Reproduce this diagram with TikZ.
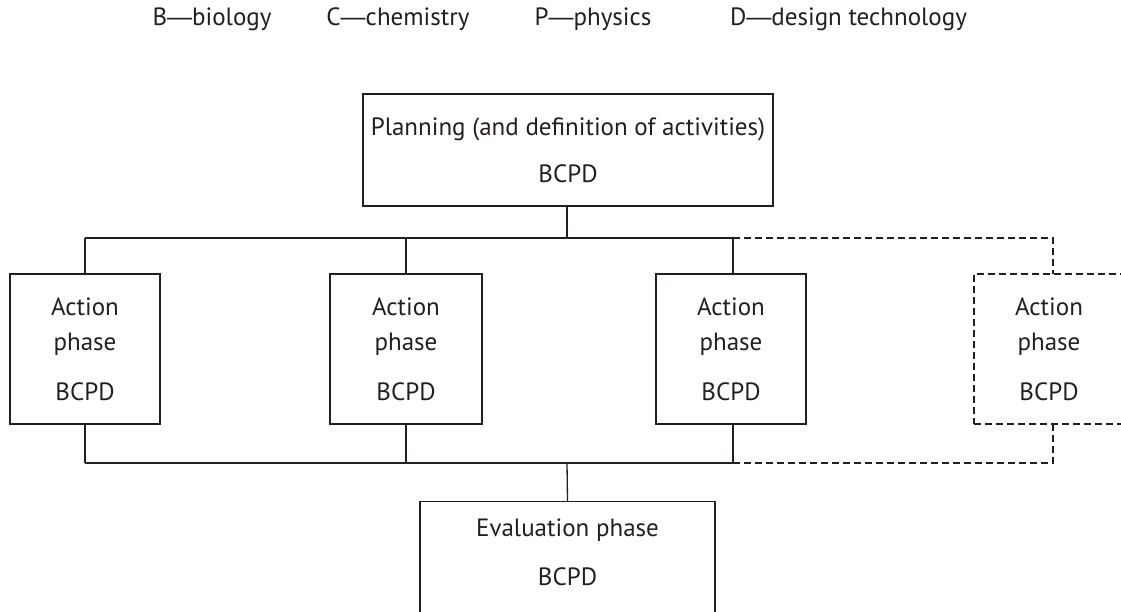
\documentclass[tikz,border=0pt]{standalone}
\usepackage{fontspec}
\setmainfont{PT Sans}
\newfontfamily\dashfont{Liberation Sans}
\definecolor{ink}{HTML}{231F20}
\newcommand\diafont{\fontsize{25}{35}\selectfont}
\newcommand\emd{{\dashfont —}}
\begin{document}
\begin{tikzpicture}[x=1pt,y=-1pt,
  every node/.style={text=ink, font=\diafont, align=center, inner sep=0pt},
  box/.style={draw=ink, line width=1.3pt},
  dbox/.style={draw=ink, line width=1.3pt, dash pattern=on 7pt off 4pt},
  wire/.style={draw=ink, line width=1.3pt},
  dwire/.style={draw=ink, line width=1.3pt, dash pattern=on 7pt off 4pt}]
\useasboundingbox (0,0) rectangle (1121,611);
% legend
\node (lb) at (212,19) {B\emd biology};
\node (lc) at (398,19) {C\emd chemistry};
\node (lp) at (593,19) {P\emd physics};
\node (ld) at (848.5,19) {D\emd design technology};
% planning
\node[box, minimum width=410pt, minimum height=112pt] (plan) at (568,150) {Planning (and definition of activities)\\[12pt]BCPD};
% action boxes
\node[box, minimum width=150pt, minimum height=150pt] (a1) at (85,349) {Action\\phase\\[15pt]BCPD};
\node[box, minimum width=152pt, minimum height=150pt] (a2) at (406,349) {Action\\phase\\[15pt]BCPD};
\node[box, minimum width=150pt, minimum height=150pt] (a3) at (731,349) {Action\\phase\\[15pt]BCPD};
\node[dbox, minimum width=150pt, minimum height=150pt] (a4) at (1049,349) {Action\\phase\\[15pt]BCPD};
% evaluation
\node[box, minimum width=295pt, minimum height=150pt, anchor=north] (eval) at (567.5,501) {};
\node (evaltext) at (567.5,552) {Evaluation phase\\[14pt]BCPD};
% named junctions
\coordinate (t1) at (85,238);
\coordinate (t2) at (406,238);
\coordinate (t3) at (733,238);
\coordinate (t4) at (1053,238);
\coordinate (tp) at (567,238);
\coordinate (b1) at (85,463);
\coordinate (b2) at (406,463);
\coordinate (b3) at (733,463);
\coordinate (b4) at (1053,463);
\coordinate (be) at (567,463);
\coordinate (a4t) at (1053,274);
\coordinate (a4b) at (1053,424);
% connectors
\path[wire] (plan.south -| tp) -- (tp);
\path[wire] (t1) -- (t3);
\path[wire] (t1) -- (a1.north);
\path[wire] (t2) -- (a2.north);
\path[wire] (t3) -- (a3.north -| t3);
\path[dwire] (t3) -- (t4) -- (a4t);
\path[wire] (a1.south) -- (b1);
\path[wire] (a2.south) -- (b2);
\path[wire] (a3.south -| b3) -- (b3);
\path[wire] (b1) -- (b3);
\path[dwire] (b3) -- (b4) -- (a4b);
\path[wire] (be) -- (eval.north);
\end{tikzpicture}
\end{document}
